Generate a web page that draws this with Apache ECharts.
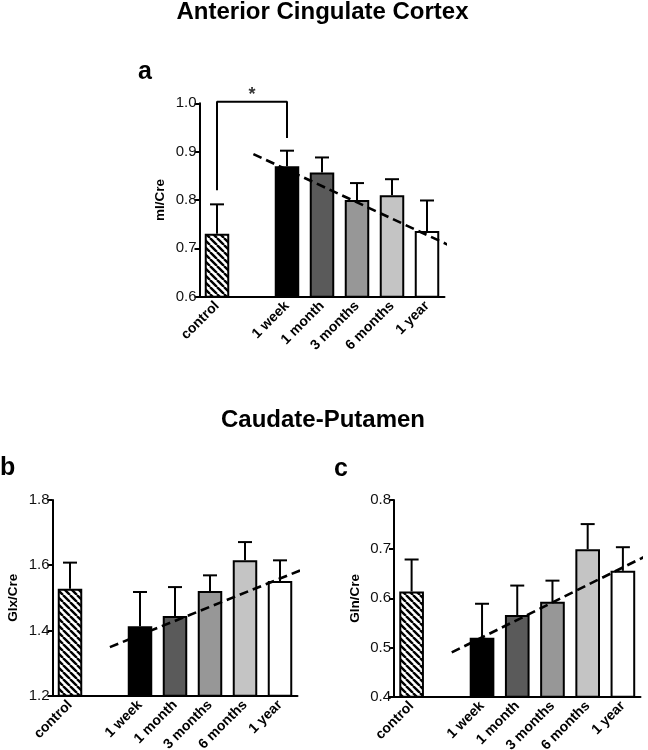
<!DOCTYPE html>
<html><head><meta charset="utf-8">
<script src="https://cdn.jsdelivr.net/npm/echarts@6/dist/echarts.min.js"></script>
<style>html,body{margin:0;padding:0;background:#fff}#c{width:648px;height:750px}</style>
</head><body><div id="c"></div>
<script>
// ---- data ----
const categories = ['control', '', '1 week', '1 month', '3 months', '6 months', '1 year'];
const aMean = [0.730, null, 0.870, 0.857, 0.800, 0.810, 0.736];
const aUpper = [0.791, null, 0.902, 0.888, 0.835, 0.843, 0.799];
const aTrend = [[1.54, 0.895], [7.17, 0.705]];
const aBracket = [[0.5, 0.82], [0.5, 1.003], [2.5, 1.003], [2.5, 0.928]];
const aStar = [[1.5, 1.018]];
const bMean = [1.528, null, 1.413, 1.444, 1.521, 1.615, 1.552];
const bUpper = [1.608, null, 1.518, 1.533, 1.569, 1.671, 1.615];
const bTrend = [[1.64, 1.349], [7.12, 1.586]];
const cMean = [0.614, null, 0.520, 0.566, 0.593, 0.700, 0.656];
const cUpper = [0.679, null, 0.589, 0.626, 0.636, 0.751, 0.704];
const cTrend = [[1.64, 0.490], [7.18, 0.687]];
const yTicksA = [0.6, 1.0, 0.1];
const yTicksB = [1.2, 1.8, 0.2];
const yTicksC = [0.4, 0.8, 0.1];

// ---- styles ----
const FONT = 'Liberation Sans, Arial, Helvetica, sans-serif';
function hatch() {
  const s = 7, cv = document.createElement('canvas');
  cv.width = s; cv.height = s;
  const g = cv.getContext('2d');
  g.fillStyle = '#fff'; g.fillRect(0, 0, s, s);
  g.strokeStyle = '#000'; g.lineWidth = 2.4;
  g.beginPath();
  for (let k = -1; k <= 1; k++) { g.moveTo(k * s, 0); g.lineTo(k * s + s, s); }
  g.stroke();
  return cv;
}
const pattern = { image: hatch(), repeat: 'repeat' };
const fills = [pattern, '#fff', '#000000', '#5a5a5a', '#979797', '#c4c4c4', '#ffffff'];

const grids = [
  { left: 199.5, top: 103.3, width: 245, height: 193.4, outerBoundsMode: 'none', containLabel: false },
  { left: 52.5, top: 500, width: 245, height: 195.7, outerBoundsMode: 'none', containLabel: false },
  { left: 394, top: 500, width: 246.5, height: 196.7, outerBoundsMode: 'none', containLabel: false }
];
const yNames = ['mI/Cre', 'Glx/Cre', 'Gln/Cre'];
const yTicks = [yTicksA, yTicksB, yTicksC];

const xAxis = [], yAxis = [];
for (let i = 0; i < 3; i++) {
  xAxis.push({
    type: 'category', gridIndex: i, data: categories,
    axisLine: { lineStyle: { color: '#000', width: 2 } },
    axisTick: { show: false },
    axisLabel: { rotate: 45, color: '#000', fontFamily: FONT, fontWeight: 'bold', fontSize: 14, margin: 7, interval: 0 }
  });
  yAxis.push({
    type: 'value', gridIndex: i, min: yTicks[i][0], max: yTicks[i][1], interval: yTicks[i][2],
    name: yNames[i], nameLocation: 'middle', nameGap: 32, nameRotate: 90,
    nameTextStyle: { color: '#000', fontFamily: FONT, fontWeight: 'bold', fontSize: 13.5 },
    axisLine: { show: true, lineStyle: { color: '#000', width: 2 } },
    axisTick: { show: true, length: 5, lineStyle: { color: '#000', width: 2 } },
    axisLabel: { color: '#111', fontFamily: FONT, fontSize: 15, margin: 3, formatter: v => v.toFixed(1) },
    splitLine: { show: false }
  });
}
for (let i = 0; i < 3; i++) {
  xAxis.push({ type: 'value', gridIndex: i, min: 0, max: 7, show: false });
}

function barSeries(i, mean) {
  return {
    type: 'bar', xAxisIndex: i, yAxisIndex: i, barWidth: '70%', z: 3,
    data: mean.map((v, k) => ({ value: v, itemStyle: { color: fills[k], borderColor: '#000', borderWidth: 2 } }))
  };
}
function errSeries(i, mean, upper) {
  return {
    type: 'custom', xAxisIndex: i, yAxisIndex: i, z: 2,
    data: mean.map((v, k) => [k, v, upper[k]]).filter(d => d[1] != null),
    renderItem: function (params, api) {
      const x = api.value(0);
      const p0 = api.coord([x, api.value(1)]);
      const p1 = api.coord([x, api.value(2)]);
      const hw = 7;
      return { type: 'group', children: [
        { type: 'line', shape: { x1: p0[0], y1: p0[1], x2: p1[0], y2: p1[1] }, style: { stroke: '#000', lineWidth: 2 } },
        { type: 'line', shape: { x1: p1[0] - hw, y1: p1[1], x2: p1[0] + hw, y2: p1[1] }, style: { stroke: '#000', lineWidth: 2 } }
      ]};
    }
  };
}
function trendSeries(i, pts) {
  return {
    type: 'line', xAxisIndex: 3 + i, yAxisIndex: i, data: pts, symbol: 'none', clip: false, z: 5,
    lineStyle: { color: '#000', width: 2.6, type: [9, 5] }
  };
}

const series = [
  errSeries(0, aMean, aUpper), barSeries(0, aMean), trendSeries(0, aTrend),
  errSeries(1, bMean, bUpper), barSeries(1, bMean), trendSeries(1, bTrend),
  errSeries(2, cMean, cUpper), barSeries(2, cMean), trendSeries(2, cTrend),
  { type: 'line', xAxisIndex: 3, yAxisIndex: 0, data: aBracket, symbol: 'none', clip: false, z: 5,
    lineStyle: { color: '#000', width: 2 } },
  { type: 'scatter', xAxisIndex: 3, yAxisIndex: 0, data: aStar, symbolSize: 1, clip: false,
    itemStyle: { color: 'rgba(0,0,0,0)' },
    label: { show: true, position: 'inside', formatter: '*', color: '#000', fontFamily: FONT, fontSize: 18, fontWeight: 'bold' } }
];

const txt = (text, x, y, size, align) => ({
  type: 'text', x: x, y: y,
  style: { text: text, fill: '#000', font: 'bold ' + size + 'px ' + FONT, textAlign: align || 'center', textVerticalAlign: 'middle' }
});

const chart = echarts.init(document.getElementById('c'), null, { renderer: 'canvas' });
chart.setOption({
  animation: false,
  backgroundColor: '#fff',
  grid: grids,
  xAxis: xAxis,
  yAxis: yAxis,
  series: series,
  graphic: [
    txt('Anterior Cingulate Cortex', 322.5, 12, 24),
    txt('Caudate-Putamen', 323, 420, 24),
    txt('a', 138, 72, 25, 'left'),
    txt('b', 0, 468, 25, 'left'),
    txt('c', 334, 469, 25, 'left')
  ]
});
</script></body></html>
